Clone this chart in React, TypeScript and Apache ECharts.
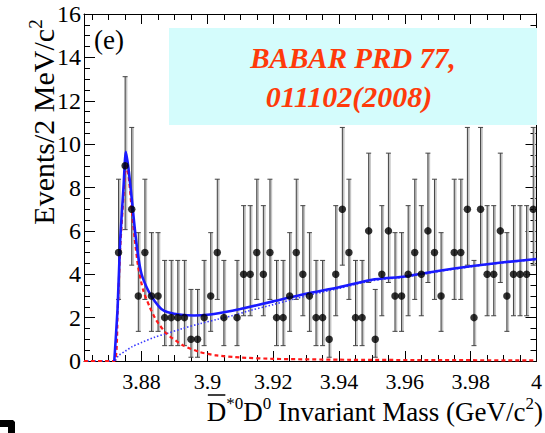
import React, { useEffect, useRef } from "react";
import * as echarts from "echarts";

// ---- data ----
const xMin = 3.8625;
const xMax = 4.0;
const binStart = 3.873; // centre of first bin (GeV/c^2)
const binWidth = 0.002;
const counts = [
  5, 9, 7, 3, 5, 3, 3, 2, 2, 2, 2, 1, 1, 2, 3, 5, 2, 0, 2, 4,
  4, 5, 4, 5, 2, 2, 3, 5, 4, 3, 2, 2, 1, 4, 7, 5, 2, 2, 6, 1,
  4, 6, 3, 3, 4, 5, 4, 6, 5, 3, 0, 5, 5, 7, 2, 7, 4, 4, 6, 3,
  4, 4, 4, 7,
];
// 68% Poisson interval bounds, indexed by count
const errLow = [0, 0.173, 0.708, 1.367, 2.086, 2.84, 3.62, 4.419, 5.232, 6.057];
const errHigh = [1.841, 3.3, 4.638, 5.918, 7.163, 8.382, 9.584, 10.77, 11.95, 13.11];

const xTickLabels = [3.88, 3.9, 3.92, 3.94, 3.96, 3.98, 4.0];
const yTickLabels = [0, 2, 4, 6, 8, 10, 12, 14, 16];

// fit curves: [mass, events]
const totalFit = [
  [3.8717, 0], [3.8727, 2.4], [3.8735, 5.6], [3.8745, 8.0], [3.8752, 9.65],
  [3.876, 8.9], [3.877, 7.5], [3.878, 6.0], [3.879, 4.8], [3.88, 4.0], [3.882, 3.25],
  [3.884, 2.75], [3.886, 2.4], [3.888, 2.25], [3.892, 2.13], [3.896, 2.1], [3.9, 2.13],
  [3.905, 2.25], [3.91, 2.4], [3.92, 2.75], [3.93, 3.1], [3.94, 3.4], [3.95, 3.75],
  [3.96, 3.9], [3.97, 4.15], [3.98, 4.37], [3.99, 4.55], [4.0, 4.7],
];
const signalFit = [
  [3.8625, 0], [3.8717, 0], [3.8727, 2.2], [3.8735, 5.2], [3.8745, 7.6], [3.8752, 9.0],
  [3.876, 8.6], [3.877, 7.0], [3.878, 5.5], [3.879, 4.3], [3.8805, 3.25], [3.8825, 2.48],
  [3.8845, 1.87], [3.8876, 1.26], [3.8926, 0.72], [3.8977, 0.41], [3.9027, 0.26],
  [3.91, 0.16], [3.92, 0.1], [3.94, 0.06], [3.97, 0.04], [4.0, 0.03],
];
const backgroundFit = [
  [3.8625, 0], [3.8717, 0], [3.873, 0.25], [3.875, 0.45], [3.877, 0.65], [3.88, 0.85],
  [3.884, 1.1], [3.8875, 1.26], [3.8925, 1.5], [3.8977, 1.72], [3.903, 1.92],
  [3.9078, 2.1], [3.913, 2.33], [3.92, 2.6], [3.93, 3.0], [3.94, 3.35], [3.95, 3.7],
  [3.96, 3.87], [3.97, 4.12], [3.98, 4.35], [3.99, 4.53], [4.0, 4.68],
];

const FONT = "'Liberation Serif', 'Times New Roman', Times, 'DejaVu Serif', serif";

export default function App() {
  const ref = useRef<HTMLDivElement>(null);

  useEffect(() => {
    if (!ref.current) return;
    const chart = echarts.init(ref.current, null, { renderer: "svg" });

    const points: number[][] = [];
    const bars: number[][] = [];
    counts.forEach((n, i) => {
      if (n <= 0) return;
      const x = +(binStart + i * binWidth).toFixed(4);
      points.push([x, n]);
      bars.push([x, errLow[n], errHigh[n]]);
    });

    const minorTicks: number[] = [];
    for (let k = 0; k <= 27; k++) minorTicks.push(+(3.865 + k * 0.005).toFixed(3));

    const axisLine = { show: true, lineStyle: { color: "#000", width: 1 } };

    // width of the x-axis title pieces, for the bar over the first D
    const cv = document.createElement("canvas").getContext("2d");
    const w = (t: string, s: number) => {
      if (!cv) return t.length * s * 0.5;
      cv.font = `${s}px ${FONT}`;
      return cv.measureText(t).width;
    };
    const titleW = w("D", 27) + w("*0", 17) + w("D", 27) + w("0", 17) + w(" Invariant Mass (GeV/c", 27) + w("2", 17) + w(")", 27);
    const titleLeft = 543 - titleW;
    const dW = w("D", 27);

    // rich style for axis labels (uses color)
    const lab = (size: number) => ({ fontFamily: FONT, fontSize: size, color: "#000" });
    // rich style for graphic texts (uses fill)
    const gtxt = (size: number, extra: any = {}) => ({ fontFamily: FONT, fontSize: size, fill: "#000", ...extra });

    const option: any = {
      animation: false,
      backgroundColor: "#fff",
      textStyle: { fontFamily: FONT },
      grid: { left: 84, right: 8, top: 14, bottom: 72, containLabel: false },
      xAxis: [
        {
          type: "value", min: xMin, max: xMax, position: "bottom",
          axisLine,
          splitLine: { show: false },
          axisTick: { show: true, inside: true, length: 10, customValues: xTickLabels, lineStyle: { color: "#000" } },
          axisLabel: {
            show: true, customValues: xTickLabels, margin: 9,
            fontFamily: FONT, fontSize: 22, color: "#000",
            formatter: (v: number) => `{a|${+(+v).toFixed(2)}}`,
            rich: { a: lab(22) },
          },
        },
        {
          type: "value", min: xMin, max: xMax, position: "bottom",
          axisLine: { show: false },
          splitLine: { show: false },
          axisTick: { show: true, inside: true, length: 6, customValues: minorTicks, lineStyle: { color: "#000" } },
          axisLabel: { show: false },
        },
        {
          type: "value", min: xMin, max: xMax, position: "top",
          axisLine,
          splitLine: { show: false },
          axisTick: { show: true, inside: true, length: 10, customValues: xTickLabels, lineStyle: { color: "#000" } },
          axisLabel: { show: false },
        },
        {
          type: "value", min: xMin, max: xMax, position: "top",
          axisLine: { show: false },
          splitLine: { show: false },
          axisTick: { show: true, inside: true, length: 6, customValues: minorTicks, lineStyle: { color: "#000" } },
          axisLabel: { show: false },
        },
      ],
      yAxis: [
        {
          type: "value", min: 0, max: 16, interval: 2, position: "left",
          axisLine,
          splitLine: { show: false },
          axisTick: { show: true, inside: true, length: 11, lineStyle: { color: "#000" } },
          minorTick: { show: true, splitNumber: 4, length: 6, lineStyle: { color: "#000" } },
          axisLabel: {
            show: true, margin: 3, fontFamily: FONT, fontSize: 24, color: "#000",
            customValues: yTickLabels,
            formatter: (v: number) => `{a|${v}}`,
            rich: { a: lab(24) },
          },
        },
        {
          type: "value", min: 0, max: 16, interval: 2, position: "right",
          axisLine,
          splitLine: { show: false },
          axisTick: { show: true, inside: true, length: 11, lineStyle: { color: "#000" } },
          minorTick: { show: true, splitNumber: 4, length: 6, lineStyle: { color: "#000" } },
          axisLabel: { show: false },
        },
      ],
      series: [
        {
          type: "custom",
          name: "errors",
          xAxisIndex: 0, yAxisIndex: 0,
          data: bars,
          z: 3,
          renderItem: (params: any, api: any) => {
            const x = api.value(0), lo = api.value(1), hi = api.value(2);
            const p1 = api.coord([x, lo]);
            const p2 = api.coord([x, hi]);
            const c = 2.5;
            return {
              type: "group",
              children: [
                { type: "line", shape: { x1: p1[0] + 1, y1: p1[1], x2: p2[0] + 1, y2: p2[1] }, style: { stroke: "#c4c4c4", lineWidth: 2.5 } },
                { type: "line", shape: { x1: p1[0], y1: p1[1], x2: p2[0], y2: p2[1] }, style: { stroke: "#444", lineWidth: 1 } },
                { type: "line", shape: { x1: p1[0] - c, y1: p1[1], x2: p1[0] + c, y2: p1[1] }, style: { stroke: "#444", lineWidth: 1 } },
                { type: "line", shape: { x1: p2[0] - c, y1: p2[1], x2: p2[0] + c, y2: p2[1] }, style: { stroke: "#444", lineWidth: 1 } },
              ],
            };
          },
        },
        {
          type: "line", name: "background", data: backgroundFit, showSymbol: false, symbol: "none",
          smooth: 0.3, z: 4,
          lineStyle: { color: "#3a3aff", width: 1.6, type: [1.5, 2] },
        },
        {
          type: "line", name: "signal", data: signalFit, showSymbol: false, symbol: "none",
          smooth: 0.2, z: 5,
          lineStyle: { color: "#ff1a1a", width: 2.2, type: [4, 3] },
        },
        {
          type: "line", name: "total", data: totalFit, showSymbol: false, symbol: "none",
          smooth: 0.2, z: 6,
          lineStyle: { color: "#1a1aff", width: 2.6 },
        },
        {
          type: "scatter", name: "data", data: points, symbol: "circle", symbolSize: 7.5, z: 7,
          itemStyle: { color: "#000" },
        },
      ],
      graphic: [
        {
          type: "rect", z: 10,
          shape: { x: 169, y: 28, width: 368, height: 97 },
          style: { fill: "#d4fcfc" },
        },
        {
          type: "text", z: 11, x: 353, y: 58,
          style: {
            text: "{r|BABAR PRD 77,}",
            align: "center", verticalAlign: "middle",
            rich: { r: gtxt(29, { fill: "#ff3a0a", fontStyle: "italic", fontWeight: "bold" }) },
          },
        },
        {
          type: "text", z: 11, x: 349, y: 96,
          style: {
            text: "{r|011102(2008)}",
            align: "center", verticalAlign: "middle",
            rich: { r: gtxt(30, { fill: "#ff3a0a", fontStyle: "italic", fontWeight: "bold" }) },
          },
        },
        {
          type: "text", z: 11, x: 94, y: 40,
          style: {
            text: "{a|(e)}", align: "left", verticalAlign: "middle",
            rich: { a: gtxt(27) },
          },
        },
        {
          type: "text", z: 11, x: 42, y: 122, rotation: Math.PI / 2,
          style: {
            text: "{n|Events/2 MeV/c}{s|2}",
            align: "center", verticalAlign: "middle",
            rich: {
              n: gtxt(30, { lineHeight: 32, verticalAlign: "bottom" }),
              s: gtxt(19, { lineHeight: 32, verticalAlign: "top", padding: [0, 0, 12, 0] }),
            },
          },
        },
        {
          type: "text", z: 11, x: 543, y: 410,
          style: {
            text: "{n|D}{s|*0}{n|D}{s|0}{n| Invariant Mass (GeV/c}{s|2}{n|)}",
            align: "right", verticalAlign: "middle",
            rich: {
              n: gtxt(27, { lineHeight: 30, verticalAlign: "bottom" }),
              s: gtxt(17, { lineHeight: 30, verticalAlign: "top", padding: [0, 0, 12, 0] }),
            },
          },
        },
        {
          type: "line", z: 11,
          shape: { x1: titleLeft + 1, y1: 395, x2: titleLeft + dW - 1, y2: 395 },
          style: { stroke: "#000", lineWidth: 1.5 },
        },
        {
          type: "polygon", z: 11,
          shape: { points: [[0, 420], [13, 420], [15, 422], [15, 433], [8, 433], [8, 427], [0, 427]] },
          style: { fill: "#000" },
        },
      ],
    };

    chart.setOption(option);
    return () => chart.dispose();
  }, []);

  return (
    <div
      ref={ref}
      style={{ position: "fixed", left: 0, top: 0, width: 545, height: 433, background: "#fff" }}
    />
  );
}
